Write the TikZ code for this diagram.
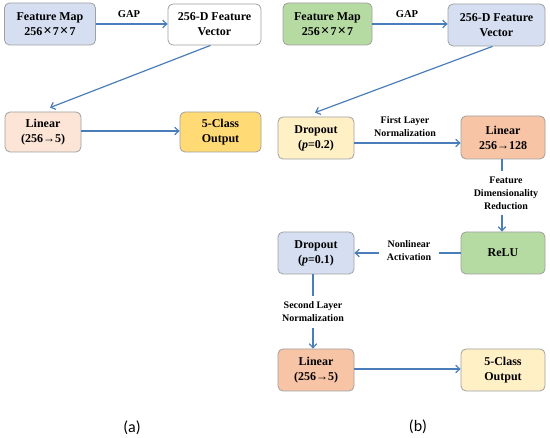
\documentclass[tikz,border=0pt]{standalone}
\usepackage{fontspec}
\setmainfont{Liberation Serif}
\newfontfamily\capfont{Carlito}
\usetikzlibrary{arrows.meta}
\definecolor{arrowblue}{HTML}{4A7EBB}
\definecolor{boxgray}{HTML}{A0A0A0}
\definecolor{cblue}{HTML}{D5DFF1}
\definecolor{cgreen}{HTML}{B5DBA3}
\definecolor{cpink}{HTML}{FCE4D6}
\definecolor{cgold}{HTML}{FFDA75}
\definecolor{cyellow}{HTML}{FFF0C6}
\definecolor{csalmon}{HTML}{F8C4A6}
\tikzset{
  blk/.style={draw=boxgray, line width=0.8pt, rounded corners=5pt, align=center,
    inner sep=1pt, font=\fontsize{12}{15}\selectfont\bfseries},
  arr/.style={draw=arrowblue, line width=1.2pt, -{Straight Barb[length=4pt,width=7.5pt]}},
  seg/.style={draw=arrowblue, line width=1.2pt},
  lbl/.style={align=center, inner sep=0pt, font=\fontsize{10}{13}\selectfont\bfseries},
  gaplbl/.style={inner sep=0pt, font=\fontsize{10.5}{12}\selectfont\bfseries},
  captxt/.style={inner sep=0pt, font=\fontsize{16}{18}\capfont}
}
\newcommand{\mult}{\kern1pt{\fontsize{15}{15}\selectfont×}\kern1pt}
\begin{document}
\begin{tikzpicture}[x=1pt,y=-1pt]
\useasboundingbox (0,0) rectangle (550,438);
% panel (a)
\node[blk, fill=cblue, minimum width=91pt, minimum height=42pt] (afm) at (50,24) {Feature Map\\256\mult7\mult7};
\node[blk, fill=white, minimum width=93pt, minimum height=41pt] (avec) at (214.5,24.5) {256-D Feature\\Vector};
\node[blk, fill=cpink, minimum width=76pt, minimum height=40pt] (alin) at (43,132) {Linear\\(256→5)};
\node[blk, fill=cgold, minimum width=81pt, minimum height=40pt] (aout) at (220.5,132) {5-Class\\Output};
\node[gaplbl] (agap) at (129,14) {GAP};
\draw[arr] (afm.east) -- (avec.west |- afm.east);
\draw[arr] ([xshift=-4pt]avec.south) -- ([xshift=7pt,yshift=4pt]alin.north);
\draw[arr] ([yshift=1pt]alin.east) -- ([yshift=1pt]aout.west);
% panel (b)
\node[blk, fill=cgreen, minimum width=89pt, minimum height=42pt] (bfm) at (327.5,24) {Feature Map\\256\mult7\mult7};
\node[blk, fill=cblue, minimum width=97pt, minimum height=42pt] (bvec) at (496.5,25) {256-D Feature\\Vector};
\node[blk, fill=cyellow, minimum width=76pt, minimum height=42pt] (bdropa) at (316,138) {Dropout\\(\textit{p}=0.2)};
\node[blk, fill=csalmon, minimum width=84pt, minimum height=43pt] (blina) at (503,137.5) {Linear\\256→128};
\node[blk, fill=cgreen, minimum width=84pt, minimum height=42pt] (brelu) at (503,253) {ReLU};
\node[blk, fill=cblue, minimum width=76pt, minimum height=42pt] (bdropb) at (316,253) {Dropout\\(\textit{p}=0.1)};
\node[blk, fill=csalmon, minimum width=76pt, minimum height=42pt] (blinb) at (316,370) {Linear\\(256→5)};
\node[blk, fill=cyellow, minimum width=84pt, minimum height=42pt] (bout) at (503,370) {5-Class\\Output};
\node[gaplbl] (bgap) at (407,14) {GAP};
\node[lbl] (lfirst) at (405,127) {First Layer\\Normalization};
\node[lbl, inner ysep=5pt] (lfeat) at (506,193) {Feature\\Dimensionality\\Reduction};
\node[lbl, inner xsep=8pt] (lnonlin) at (409,251) {Nonlinear\\Activation};
\node[lbl, inner ysep=6pt] (lsecond) at (313,312) {Second Layer\\Normalization};
\draw[arr] (bfm.east) -- (bvec.west |- bfm.east);
\draw[arr] ([xshift=-4pt]bvec.south) -- ([xshift=-1pt,yshift=4pt]bdropa.north);
\draw[arr] ([yshift=-5pt]bdropa.east) -- ([yshift=-5pt]bdropa.east -| blina.west);
\draw[seg] ([xshift=-1pt]blina.south) -- ([xshift=-1pt]blina.south |- lfeat.north);
\draw[arr] ([xshift=-1pt]brelu.north |- lfeat.south) -- ([xshift=-1pt]brelu.north);
\draw[seg] (brelu.west) -- (brelu.west -| lnonlin.east);
\draw[arr] (bdropb.east -| lnonlin.west) -- (bdropb.east);
\draw[seg] ([xshift=-3pt]bdropb.south) -- ([xshift=-3pt]bdropb.south |- lsecond.north);
\draw[arr] ([xshift=-3pt]blinb.north |- lsecond.south) -- ([xshift=-3pt]blinb.north);
\draw[arr] ([yshift=1pt]blinb.east) -- ([yshift=1pt]bout.west);
% captions
\node[captxt] (capa) at (132,428) {(a)};
\node[captxt] (capb) at (418,427) {(b)};
\end{tikzpicture}
\end{document}
